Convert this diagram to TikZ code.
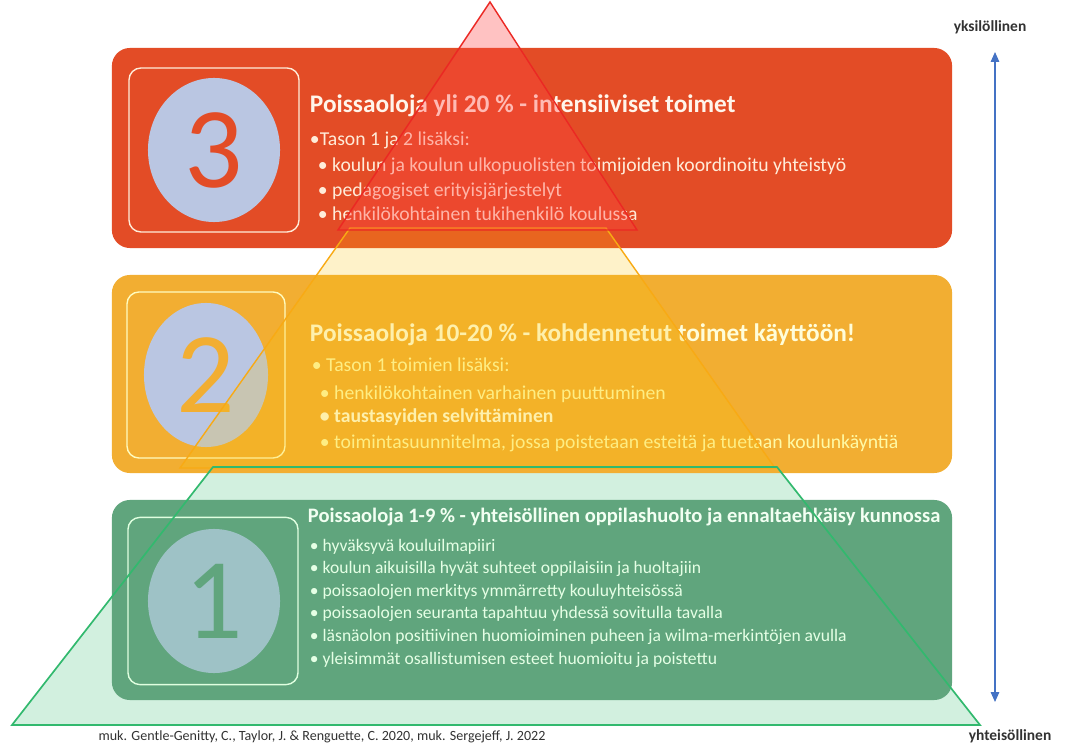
\documentclass[tikz,border=0pt]{standalone}
\usepackage{fontspec}
\setmainfont{Carlito}
\usetikzlibrary{shapes.geometric, arrows.meta, positioning}
\definecolor{tierRed}{RGB}{227,76,38}
\definecolor{tierYellow}{RGB}{242,174,50}
\definecolor{tierGreen}{RGB}{96,165,125}
\definecolor{ringLavender}{RGB}{186,198,226}
\definecolor{ringTeal}{RGB}{158,194,198}
\definecolor{edgeRed}{RGB}{235,40,35}
\definecolor{edgeYellow}{RGB}{248,170,20}
\definecolor{edgeGreen}{RGB}{50,185,110}
\definecolor{axisBlue}{RGB}{68,114,196}
\definecolor{noteGray}{RGB}{50,50,50}

\begin{document}
\begin{tikzpicture}[x=0.025cm, y=-0.025cm]
    \tikzset{
        tierbox/.style={rounded corners=0.45cm, minimum width=21cm, inner sep=0pt},
        framebox/.style={draw, line width=1pt, rounded corners=0.3cm, inner sep=0pt},
        ring/.style={ellipse, inner sep=0pt, minimum width=3.3cm, minimum height=3.6cm, font=\fontsize{82}{82}\selectfont},
        headline/.style={anchor=base west, font=\bfseries\fontsize{18}{18}\selectfont},
        item/.style={anchor=base west, font=\fontsize{14}{14}\selectfont},
        axislabel/.style={font=\bfseries\fontsize{11}{11}\selectfont, text=noteGray}
    }
    \useasboundingbox (0,0) rectangle (1065,747);

    % Base of the pyramid (behind the boxes)
    \fill[edgeGreen!22] (213,467) -- (777,467) -- (980,725) -- (12,725) -- cycle;

    % Tiers
    \node[tierbox, fill=tierRed, minimum height=5cm] at (532,148) (tier3) {};
    \node[tierbox, fill=tierYellow, minimum height=4.95cm] at (532,374) (tier2) {};
    \node[tierbox, fill=tierGreen, minimum height=5cm] at (532,600) (tier1) {};

    % Numbers
    \node[framebox, draw=orange!15, minimum width=4.25cm, minimum height=4.1cm] at (214,150) (frame3) {};
    \node[ring, fill=ringLavender, text=tierRed] at (214,150) (num3) {3};
    \node[framebox, draw=yellow!25, minimum width=3.95cm, minimum height=4.15cm] at (206,375) (frame2) {};
    \node[ring, fill=ringLavender, text=tierYellow, minimum width=3.1cm] at (206,375) (num2) {2};
    \node[framebox, draw=green!12, minimum width=4.25cm, minimum height=4.18cm] at (213,601) (frame1) {};
    \node[ring, fill=ringTeal, text=tierGreen] at (214,601) (num1) {1};

    % Tier 3 text
    \node[headline, text=orange!8] at (305,113) (head3) {Poissaoloja yli 20 \% - intensiiviset toimet};
    \node[item, text=orange!15] at (305,146) (t3a) {•Tason 1 ja 2 lisäksi:};
    \node[item, text=orange!15] at (313,172) (t3b) {• koulun ja koulun ulkopuolisten toimijoiden koordinoitu yhteistyö};
    \node[item, text=orange!15] at (313,197) (t3c) {• pedagogiset erityisjärjestelyt};
    \node[item, text=orange!15] at (313,221) (t3d) {• henkilökohtainen tukihenkilö koulussa};

    % Tier 2 text
    \node[headline, text=yellow!15] at (305,342) (head2) {Poissaoloja 10-20 \% - kohdennetut toimet käyttöön!};
    \node[item, text=yellow!35] at (307,372) (t2a) {• Tason 1 toimien lisäksi:};
    \node[item, text=yellow!35] at (315,400) (t2b) {• henkilökohtainen varhainen puuttuminen};
    \node[item, text=yellow!15, font=\bfseries\fontsize{14}{14}\selectfont] at (315,423) (t2c) {• taustasyiden selvittäminen};
    \node[item, text=yellow!35] at (315,449) (t2d) {• toimintasuunnitelma, jossa poistetaan esteitä ja tuetaan koulunkäyntiä};

    % Tier 1 text
    \node[headline, text=green!5, font=\bfseries\fontsize{14.6}{14.6}\selectfont] at (303,522) (head1) {Poissaoloja 1-9 \% - yhteisöllinen oppilashuolto ja ennaltaehkäisy kunnossa};
    \foreach \txt [count=\i] in {hyväksyvä kouluilmapiiri,
            koulun aikuisilla hyvät suhteet oppilaisiin ja huoltajiin,
            poissaolojen merkitys ymmärretty kouluyhteisössä,
            poissaolojen seuranta tapahtuu yhdessä sovitulla tavalla,
            läsnäolon positiivinen huomioiminen puheen ja wilma-merkintöjen avulla,
            yleisimmät osallistumisen esteet huomioitu ja poistettu}
        \node[item, text=green!10, font=\fontsize{12.5}{12.5}\selectfont] at (305,{551+22.6*(\i-1)}) (t1\i) {• \txt};

    % Pyramid overlay
    \filldraw[draw=edgeYellow, line width=1pt, fill=yellow!55!orange, fill opacity=0.22] (350,228) -- (606,228) -- (775,468) -- (180,468) -- cycle;
    \filldraw[draw=edgeRed, line width=1pt, fill=red!75, fill opacity=0.32] (490,2) -- (637,230) -- (338,230) -- cycle;
    \draw[edgeGreen, line width=1.2pt] (213,467) -- (777,467) -- (980,725) -- (12,725) -- cycle;

    % Axis
    \node[axislabel] at (990,27) (top) {yksilöllinen};
    \node[axislabel] at (1010,736) (bottom) {yhteisöllinen};
    \coordinate (axistop) at (995,52);
    \coordinate (axisbot) at (995,702);
    \draw[axisBlue, line width=0.8pt, {Triangle[width=6pt,length=7pt]}-{Triangle[width=6pt,length=7pt]}] (axistop) -- (axisbot);

    % Source
    \node[font=\fontsize{10}{10}\selectfont, text=noteGray] at (322,737) (source) {muk. Gentle-Genitty, C., Taylor, J. \& Renguette, C. 2020, muk. Sergejeff, J. 2022};
\end{tikzpicture}
\end{document}
